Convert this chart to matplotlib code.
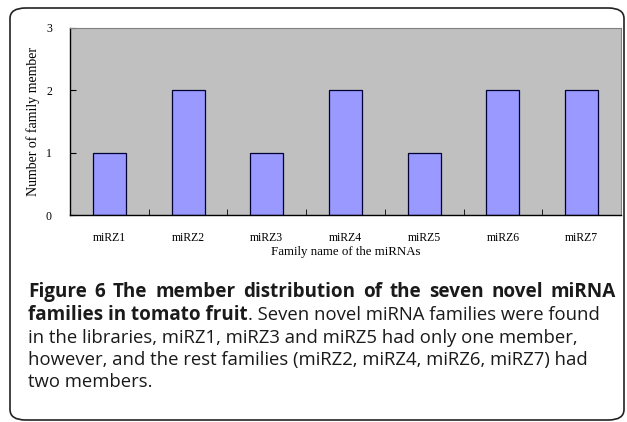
import matplotlib.pyplot as plt
from matplotlib.patches import FancyBboxPatch

# data
families = ["miRZ1", "miRZ2", "miRZ3", "miRZ4", "miRZ5", "miRZ6", "miRZ7"]
members = [1, 2, 1, 2, 1, 2, 2]
y_ticks = [0, 1, 2, 3]

W, H = 627, 422
fig = plt.figure(figsize=(W / 100, H / 100), dpi=100)

# rounded frame around figure + caption
box = FancyBboxPatch((10 / W, 1 - 420 / H), 614 / W, 412 / H,
                     boxstyle="round,pad=0,rounding_size=0.025",
                     transform=fig.transFigure, fill=False,
                     edgecolor="#222222", linewidth=1.2)
fig.patches.append(box)

# plot area
ax = fig.add_axes([70 / W, 1 - 215 / H, 551 / W, 187 / H])
ax.set_facecolor("#c0c0c0")
x = range(len(families))
ax.bar(x, members, width=0.42, color="#9999ff", edgecolor="#000033", linewidth=0.9)
ax.set_xlim(-0.5, len(families) - 0.5)
ax.set_ylim(0, 3)
ax.set_yticks(y_ticks)
ax.set_xticks(list(x))
ax.set_xticklabels(families)
ax.set_xticks([i + 0.5 for i in range(len(families) - 1)], minor=True)
ax.tick_params(axis="x", which="major", length=0, pad=12)
ax.tick_params(axis="x", which="minor", direction="in", length=4)
ax.tick_params(axis="y", direction="in", length=4, pad=13)
for lab in ax.get_xticklabels() + ax.get_yticklabels():
    lab.set_family("Liberation Serif")
    lab.set_fontsize(8.5)
for s in ["top", "right"]:
    ax.spines[s].set_color("#808080")
    ax.spines[s].set_linewidth(0.8)
for s in ["left", "bottom"]:
    ax.spines[s].set_linewidth(1.0)
ax.set_xlabel("Family name of the miRNAs", family="Liberation Serif", fontsize=9.3, labelpad=2)
ax.set_ylabel("Number of family member", family="Liberation Serif", fontsize=10, labelpad=4)

# caption
cap_font = "Open Sans"
fs_bold = 13.6
fs_reg = 13.3
color = "#1a1a1a"
left, right = 28, 616
renderer = fig.canvas.get_renderer()


def put(x_px, y_px, txt, weight="normal"):
    size = fs_bold if weight == "bold" else fs_reg
    t = fig.text(x_px / W, 1 - y_px / H, txt, fontsize=size, family=cap_font,
                 weight=weight, color=color, va="baseline", ha="left")
    bb = t.get_window_extent(renderer=renderer)
    return bb.x1


def put_justified(y_px, txt, weight="normal"):
    words = txt.split(" ")
    texts = []
    widths = []
    for w in words:
        size = fs_bold if weight == "bold" else fs_reg
        t = fig.text(0, 1 - y_px / H, w, fontsize=size, family=cap_font,
                     weight=weight, color=color, va="baseline", ha="left")
        texts.append(t)
        widths.append(t.get_window_extent(renderer=renderer).width)
    gap = (right - left - sum(widths)) / (len(words) - 1)
    xp = left
    for t, wd in zip(texts, widths):
        t.set_x(xp / W)
        xp += wd + gap


put_justified(297, "Figure 6 The member distribution of the seven novel miRNA", "bold")
xe = put(left, 320, "families in tomato fruit", "bold")
put(xe, 320, ". Seven novel miRNA families were found")
put(left, 343, "in the libraries, miRZ1, miRZ3 and miRZ5 had only one member,")
put(left, 365, "however, and the rest families (miRZ2, miRZ4, miRZ6, miRZ7) had")
put(left, 387, "two members.")

fig.savefig("out.png", dpi=100)
